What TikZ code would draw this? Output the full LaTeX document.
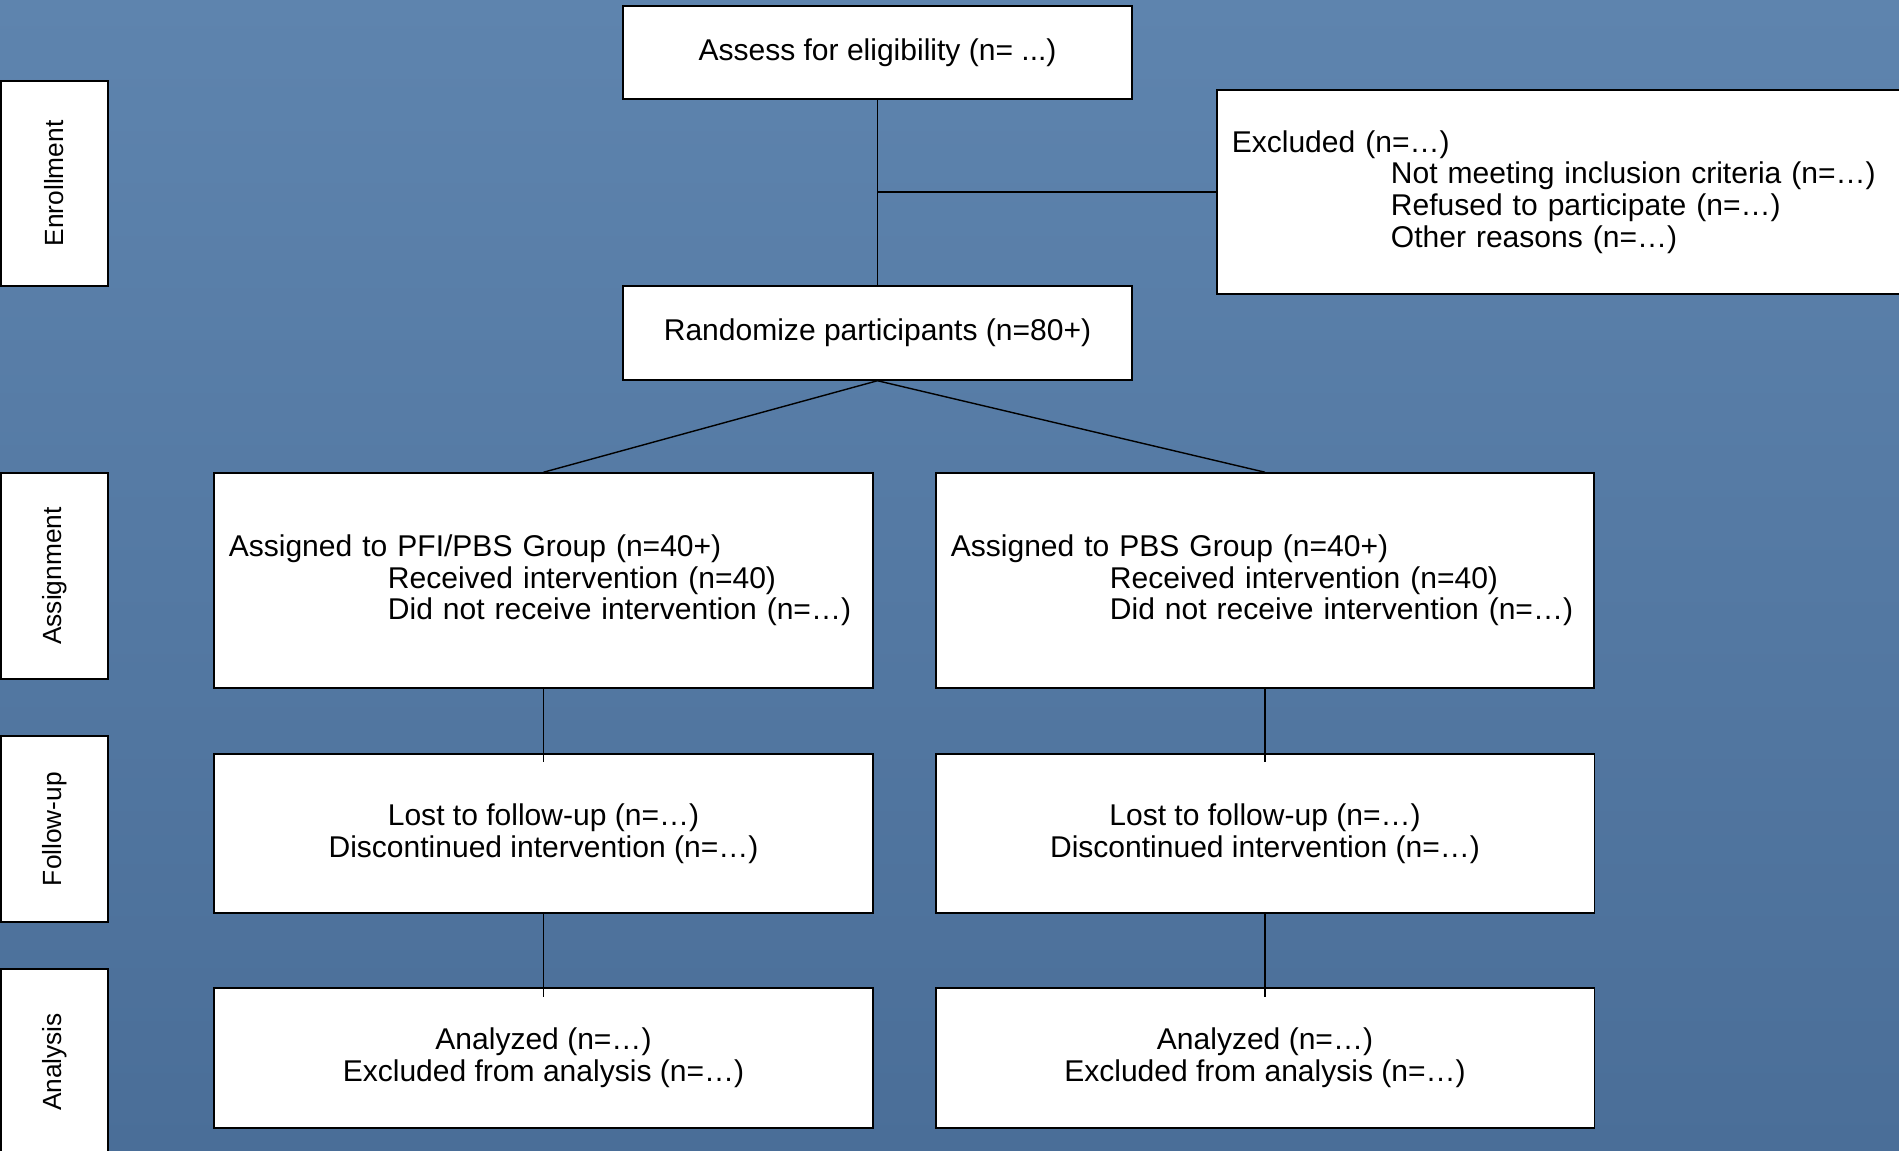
\documentclass[tikz,border=0pt]{standalone}
\usepackage{fontspec}
\setmainfont{Liberation Sans}
\usetikzlibrary{calc}
\definecolor{bgtop}{RGB}{94,132,174}
\definecolor{bgbot}{RGB}{74,110,152}
\begin{document}
\begin{tikzpicture}[x=0.01cm,y=-0.01cm,
  box/.style={draw=black, fill=white, line width=0.4pt, inner sep=0pt, font=\fontsize{8.54pt}{9.02pt}\selectfont},
  cbox/.style={box, align=center},
  lbox/.style={box, align=left, inner xsep=0.15cm},
  side/.style={draw=black, fill=white, line width=0.4pt, inner sep=0pt, rotate=90, minimum height=1.07cm, font=\fontsize{7.48pt}{8pt}\selectfont},
  conn/.style={draw=black, line width=0.4pt}]
\useasboundingbox (0,0) rectangle (1899,1151);
\clip (0,0) rectangle (1899,1151);
\shade[top color=bgtop, bottom color=bgbot] (0,0) rectangle (1899,1151);

% side labels
\node[side, minimum width=2.05cm] (lenr) at (54.5,183.5) {Enrollment};
\node[side, minimum width=2.06cm] (lass) at (54.5,576) {Assignment};
\node[side, minimum width=1.86cm] (lfu) at (54.5,829) {Follow-up};
\node[side, minimum width=1.86cm] (lan) at (54.5,1062) {Analysis};

% main boxes
\node[cbox, minimum width=5.09cm, minimum height=0.93cm] (assess) at (877.5,52.5) {Assess for eligibility (n= ...)};
\node[cbox, minimum width=5.09cm, minimum height=0.94cm] (rand) at (877.5,333) {Randomize participants (n=80+)};
\node[lbox, text width=6.70cm, minimum height=2.04cm] (excl) at (1567,192) {Excluded (n=…)\\\hspace*{1.59cm}Not meeting inclusion criteria (n=…)\\\hspace*{1.59cm}Refused to participate (n=…)\\\hspace*{1.59cm}Other reasons (n=…)};

\node[lbox, text width=6.29cm, minimum height=2.15cm] (pfi) at (543.5,580.5) {Assigned to PFI/PBS Group (n=40+)\\\hspace*{1.59cm}Received intervention (n=40)\\\hspace*{1.59cm}Did not receive intervention (n=…)};
\node[lbox, text width=6.28cm, minimum height=2.15cm] (pbs) at (1265,580.5) {Assigned to PBS Group (n=40+)\\\hspace*{1.59cm}Received intervention (n=40)\\\hspace*{1.59cm}Did not receive intervention (n=…)};

\node[cbox, minimum width=6.59cm, minimum height=1.59cm] (fu1) at (543.5,833.5) {Lost to follow-up (n=…)\\Discontinued intervention (n=…)};
\node[cbox, minimum width=6.58cm, minimum height=1.59cm] (fu2) at (1265,833.5) {Lost to follow-up (n=…)\\Discontinued intervention (n=…)};

\node[cbox, minimum width=6.59cm, minimum height=1.40cm] (an1) at (543.5,1058) {Analyzed (n=…)\\Excluded from analysis (n=…)};
\node[cbox, minimum width=6.58cm, minimum height=1.40cm] (an2) at (1265,1058) {Analyzed (n=…)\\Excluded from analysis (n=…)};

% connectors
\draw[conn] (assess.south) -- (rand.north);
\draw[conn] (assess.south |- excl.west) -- (excl.west);
\draw[conn] (rand.south) -- (pfi.north);
\draw[conn] (rand.south) -- (pbs.north);
\draw[conn] (pfi.south) -- ([yshift=-0.09cm]fu1.north);
\draw[conn] (pbs.south) -- ([yshift=-0.09cm]fu2.north);
\draw[conn] (fu1.south) -- ([yshift=-0.10cm]an1.north);
\draw[conn] (fu2.south) -- ([yshift=-0.10cm]an2.north);
\end{tikzpicture}
\end{document}
